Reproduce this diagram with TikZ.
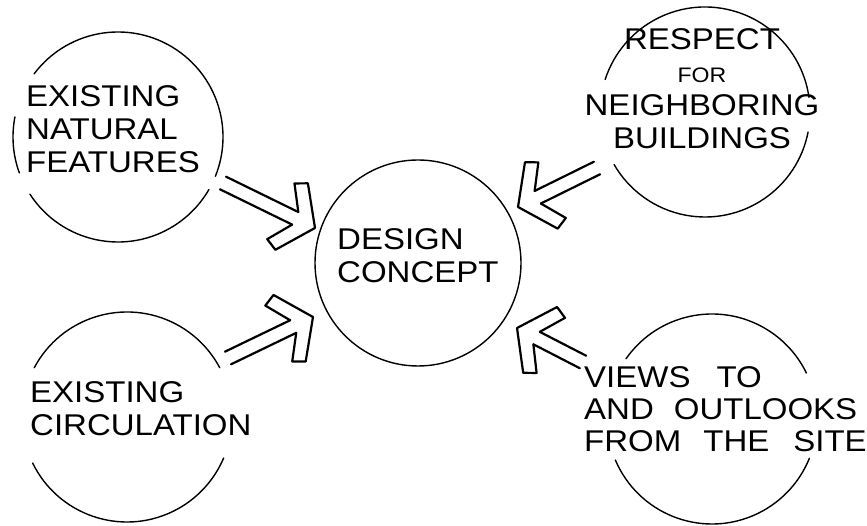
\documentclass[tikz,border=0pt]{standalone}
\usepackage{fontspec}
\setmainfont{Liberation Sans}[FakeStretch=1.1]
\usetikzlibrary{calc}

% hollow (outlined) arrow from #1 to #2
\newcommand{\openarrow}[2]{%
  \path let \p1=($(#2)-(#1)$), \n1={atan2(\y1,\x1)}, \n2={veclen(\x1,\y1)} in
    \pgfextra{\xdef\arrowangle{\n1}\xdef\arrowlength{\n2}};
  \begin{scope}[shift={(#1)}, rotate=\arrowangle]
    \draw[shaft] (0,7) -- (\arrowlength-22,7);
    \draw[shaft] (0,-7) -- (\arrowlength-22,-7);
    \draw[shaft] (\arrowlength-22,7) -- (\arrowlength-38,31) -- (\arrowlength-26,37)
      -- (\arrowlength,0) -- (\arrowlength-26,-37) -- (\arrowlength-38,-31)
      -- (\arrowlength-22,-7);
  \end{scope}}

\begin{document}
\begin{tikzpicture}[
    x=1pt, y=1pt,
    ring/.style={circle, minimum size=210, inner sep=0pt, outer sep=0pt},
    stroke/.style={line width=1.4pt, line cap=round},
    shaft/.style={line width=2.2pt, line cap=round, line join=round},
    lbl/.style={inner sep=0pt, font=\fontsize{30}{33}\selectfont}
]
\useasboundingbox (0,0) rectangle (867,526);

%---------------------------------
% Nodes
%---------------------------------

% Centre
\node[ring, draw, stroke, minimum size=206] (design) at (418,263) {};
\node[lbl, anchor=north west, align=left] (design-txt) at (337,298) {DESIGN\\CONCEPT};

% Top row
\node[ring] (natural) at (118,389) {};
\node[ring] (respect) at (705,414) {};

% Bottom row
\node[ring] (circulation) at (127,109) {};
\node[ring] (views) at (712,107) {};

% Labels
\node[lbl, anchor=north west, align=left] (natural-txt) at (26,441) {EXISTING\\NATURAL\\FEATURES};
\node[lbl, anchor=north, align=center] (respect-txt) at (702,498)
  {RESPECT\\{\fontsize{21}{22}\selectfont FOR}\\NEIGHBORING\\BUILDINGS};
\node[lbl, anchor=north west, align=left] (circulation-txt) at (30,145) {EXISTING\\CIRCULATION};
\node[lbl, anchor=north west, align=left, font=\fontsize{30}{32}\selectfont] (views-txt) at (584,160)
  {VIEWS\hspace{26pt}TO\\AND\hspace{20pt}OUTLOOKS\\FROM\hspace{22pt}THE\hspace{24pt}SITE};

%---------------------------------
% Rings, broken where text runs
%---------------------------------

% Existing natural features
\draw[stroke] (natural.143) arc[start angle=143, end angle=-22, radius=105];
\draw[stroke] (natural.169) arc[start angle=169, end angle=200, radius=105];
\draw[stroke] (natural.213) arc[start angle=213, end angle=330, radius=105];

% Respect for neighboring buildings
\draw[stroke] (respect.162) arc[start angle=162, end angle=8, radius=105];
\draw[stroke] (respect.349) arc[start angle=349, end angle=210, radius=105];

% Existing circulation
\draw[stroke] (circulation.152) arc[start angle=152, end angle=28, radius=105];
\draw[stroke] (circulation.206) arc[start angle=206, end angle=337, radius=105];

% Views and outlooks
\draw[stroke] (views.145) arc[start angle=145, end angle=26, radius=105];
\draw[stroke] (views.203) arc[start angle=203, end angle=338, radius=105];

%---------------------------------
% Arrows: all into the concept
%---------------------------------

\coordinate (tail-natural) at (223,343);
\coordinate (tip-natural) at (315,298);
\coordinate (tail-respect) at (597,358);
\coordinate (tip-respect) at (518,319);
\coordinate (tail-circulation) at (228,168);
\coordinate (tip-circulation) at (313,209);
\coordinate (tail-views) at (583,164);
\coordinate (tip-views) at (517,198);

\openarrow{tail-natural}{tip-natural}
\openarrow{tail-respect}{tip-respect}
\openarrow{tail-circulation}{tip-circulation}
\openarrow{tail-views}{tip-views}

\end{tikzpicture}
\end{document}
